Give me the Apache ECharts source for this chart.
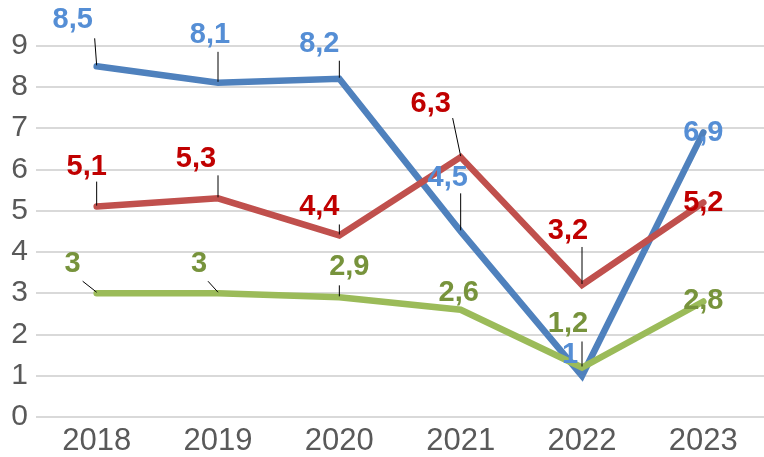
<!DOCTYPE html>
<html><head><meta charset="utf-8">
<script src="https://cdn.jsdelivr.net/npm/echarts@6/dist/echarts.min.js"></script>
<style>html,body{margin:0;padding:0;background:#fff}#c{width:764px;height:457px}</style>
</head><body><div id="c"></div>
<script>
const categories = ['2018','2019','2020','2021','2022','2023'];
const blueValues = [8.5, 8.1, 8.2, 4.5, 1, 6.9];
const redValues = [5.1, 5.3, 4.4, 6.3, 3.2, 5.2];
const greenValues = [3, 3, 2.9, 2.6, 1.2, 2.8];
const yTicks = [0,1,2,3,4,5,6,7,8,9];

// label placement (pixel offsets from point): [labelDx, labelDy, lineDx, lineDy] (null line = none)
const blueLabelPos = [[-24,-46,-2,-28],[-8,-48,0,-31],[-20,-35,0,-18],[-13,-53,0,-38],[-12,-21,null,null],[0,1,null,null]];
const redLabelPos = [[-10,-40,0,-25],[-22,-39,0,-23],[-20,-28,0,-11],[-30,-53,-8,-39],[-14,-54,0,-38],[0,1,null,null]];
const greenLabelPos = [[-24,-29,-14,-12],[-19,-29,-10,-12],[10,-30,0,-12],[-2,-17,null,null],[-14,-43,0,-26],[0,0,null,null]];

const fmt = v => String(v).replace('.', ',');

function labelSeries(values, pos, color, z) {
  return {
    type: 'custom', z: z,
    data: values.map((v,i)=>[i,v]),
    encode: {x:0, y:1},
    renderItem: function(params, api) {
      const i = params.dataIndex;
      const p = api.coord([api.value(0), api.value(1)]);
      const o = pos[i];
      const children = [];
      if (o[2] !== null) {
        children.push({type:'line', shape:{x1:p[0]+o[2], y1:p[1]+o[3], x2:p[0], y2:p[1]-1},
          style:{stroke:'#000', lineWidth:1}});
      }
      children.push({type:'text', style:{text: fmt(values[i]), x:p[0]+o[0], y:p[1]+o[1],
        align:'center', verticalAlign:'middle', fill: color,
        font:'bold 29px "Liberation Sans", Arial, sans-serif'}});
      return {type:'group', children};
    }
  };
}

function lineSeries(values, color, z) {
  return {type:'line', data: values, z: z, showSymbol:false, symbol:'none',
    lineStyle:{color: color, width:6.5, cap:'round', join:'miter'}, itemStyle:{color:color}, animation:false};
}

const chart = echarts.init(document.getElementById('c'), null, {renderer:'canvas'});
chart.setOption({
  animation:false,
  grid:{left:36, top:45.7, width:732.5, height:372.6, containLabel:false},
  xAxis:{type:'category', data: categories, boundaryGap:true,
    axisLine:{show:false}, axisTick:{show:false},
    axisLabel:{color:'#595959', fontSize:31, fontFamily:'"Liberation Sans", Arial, sans-serif', margin:9}},
  yAxis:{type:'value', min:yTicks[0], max:yTicks[yTicks.length-1], interval:1,
    axisLine:{show:false}, axisTick:{show:false},
    axisLabel:{color:'#595959', fontSize:30, fontFamily:'"Liberation Sans", Arial, sans-serif', margin:8},
    splitLine:{lineStyle:{color:'#d9d9d9', width:2}}},
  series:[
    lineSeries(blueValues, '#4f81bd', 2),
    lineSeries(redValues, '#c0504d', 3),
    lineSeries(greenValues, '#9bbb59', 4),
    labelSeries(blueValues, blueLabelPos, '#558ed5', 10),
    labelSeries(redValues, redLabelPos, '#c00000', 10),
    labelSeries(greenValues, greenLabelPos, '#77933c', 10)
  ]
});
</script></body></html>
